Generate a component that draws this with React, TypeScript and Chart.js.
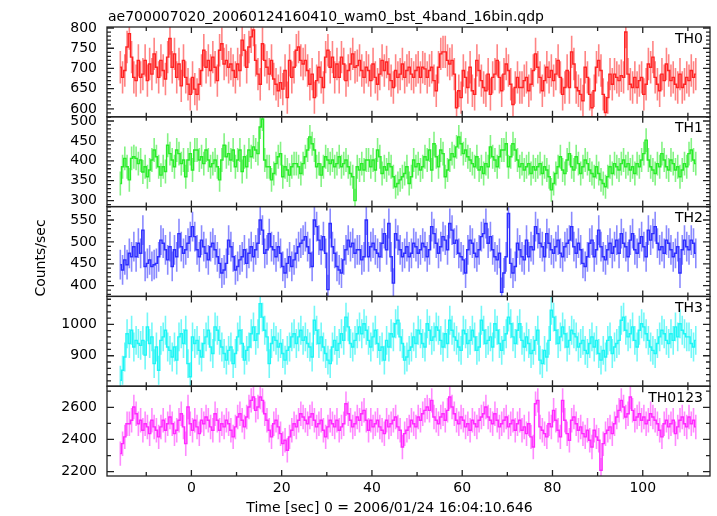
import React, { useEffect, useRef } from 'react';
import { Chart, registerables } from 'chart.js';

Chart.register(...registerables);

const TITLE = 'ae700007020_20060124160410_wam0_bst_4band_16bin.qdp';
const X_TITLE = 'Time [sec] 0 = 2006/01/24 16:04:10.646';
const Y_TITLE = 'Counts/sec';

const BIN_START = -15.75;
const BIN_WIDTH = 0.5;
const X_MIN = -18.7;
const X_MAX = 114.9;
const X_LABEL_TICKS = [0, 20, 40, 60, 80, 100];
const X_MINOR_TICKS = [-10, 0, 10, 20, 30, 40, 50, 60, 70, 80, 90, 100, 110];

const PANEL_NAMES = ['TH0', 'TH1', 'TH2', 'TH3', 'TH0123'];

const TH0 = [
  703, 678, 695, 753, 786, 728, 678, 670, 720, 678, 686, 720, 670, 711, 686, 736,
  703, 678, 720, 695, 674, 728, 774, 703, 736, 678, 711, 657, 720, 678, 661, 636,
  678, 649, 636, 661, 695, 745, 703, 720, 695, 728, 703, 670, 745, 761, 711, 720,
  703, 711, 695, 678, 711, 695, 770, 745, 703, 753, 778, 795, 720, 686, 661, 761,
  720, 703, 686, 720, 674, 661, 645, 665, 649, 695, 628, 720, 678, 703, 745, 753,
  720, 711, 720, 695, 661, 686, 628, 670, 703, 678, 653, 728, 745, 703, 728, 678,
  711, 678, 728, 711, 670, 695, 711, 736, 703, 707, 720, 695, 678, 703, 695, 670,
  711, 678, 661, 686, 720, 695, 716, 686, 670, 653, 695, 678, 686, 711, 678, 695,
  703, 686, 678, 695, 703, 678, 703, 699, 678, 695, 703, 670, 645, 703, 736, 741,
  741, 720, 711, 720, 686, 603, 645, 628, 695, 678, 653, 703, 645, 636, 720, 695,
  670, 653, 645, 686, 636, 678, 686, 720, 678, 645, 686, 711, 695, 661, 611, 653,
  678, 653, 653, 670, 678, 645, 661, 695, 736, 703, 678, 645, 670, 703, 678, 695,
  670, 686, 720, 678, 636, 653, 695, 653, 741, 711, 653, 645, 636, 620, 703, 678,
  636, 603, 645, 703, 720, 695, 636, 591, 628, 686, 661, 686, 678, 670, 682, 678,
  790, 686, 661, 653, 678, 653, 670, 678, 636, 661, 711, 703, 728, 678, 661, 645,
  686, 670, 711, 695, 670, 678, 661, 653, 686, 653, 661, 678, 670, 695, 678, 686
];

const TH1 = [
  343, 385, 406, 385, 352, 406, 410, 406, 393, 402, 372, 385, 360, 377, 402, 427,
  410, 385, 364, 385, 373, 439, 418, 402, 385, 427, 418, 393, 402, 360, 402, 418,
  377, 427, 427, 402, 410, 393, 427, 402, 385, 393, 402, 385, 352, 402, 439, 410,
  418, 402, 427, 385, 402, 427, 373, 410, 385, 427, 410, 435, 427, 418, 485, 505,
  402, 385, 385, 352, 368, 393, 410, 418, 360, 385, 377, 364, 385, 393, 393, 385,
  368, 393, 410, 427, 460, 443, 427, 385, 393, 364, 385, 410, 402, 393, 402, 385,
  393, 410, 385, 393, 402, 385, 368, 360, 300, 385, 377, 393, 377, 402, 402, 385,
  402, 377, 427, 410, 368, 385, 377, 393, 385, 360, 335, 343, 352, 360, 368, 385,
  343, 360, 402, 385, 393, 377, 385, 410, 402, 427, 377, 443, 410, 385, 427, 418,
  360, 377, 402, 418, 410, 435, 460, 443, 418, 427, 410, 402, 393, 385, 410, 377,
  385, 368, 393, 385, 435, 410, 402, 385, 410, 427, 427, 443, 385, 410, 443, 427,
  402, 385, 393, 377, 385, 393, 368, 385, 377, 385, 393, 368, 385, 377, 360, 327,
  343, 368, 385, 410, 377, 368, 402, 418, 385, 377, 410, 393, 368, 385, 402, 393,
  377, 368, 360, 385, 368, 352, 343, 335, 360, 385, 368, 393, 385, 377, 393, 402,
  385, 393, 377, 385, 368, 393, 385, 402, 418, 452, 402, 385, 377, 368, 393, 385,
  418, 402, 385, 377, 402, 393, 377, 385, 360, 377, 393, 385, 418, 427, 402, 393
];

const TH2 = [
  448, 436, 459, 448, 474, 466, 489, 466, 497, 474, 527, 444, 451, 459, 444, 448,
  451, 466, 504, 497, 482, 459, 489, 444, 482, 466, 519, 489, 474, 482, 497, 512,
  535, 512, 482, 466, 504, 489, 474, 459, 489, 497, 482, 466, 451, 429, 436, 451,
  504, 489, 466, 436, 444, 459, 466, 482, 451, 474, 489, 466, 482, 497, 550, 527,
  474, 482, 519, 489, 482, 466, 489, 474, 444, 429, 451, 466, 444, 459, 474, 489,
  497, 504, 512, 489, 474, 444, 550, 535, 504, 482, 512, 474, 391, 542, 489, 474,
  444, 436, 429, 459, 482, 504, 489, 497, 474, 482, 482, 459, 466, 550, 466, 489,
  497, 482, 474, 466, 497, 519, 482, 542, 466, 406, 519, 504, 482, 466, 474, 489,
  466, 474, 497, 489, 474, 482, 497, 489, 466, 482, 535, 519, 497, 474, 489, 512,
  504, 482, 542, 527, 497, 504, 474, 466, 459, 429, 482, 504, 497, 474, 466, 482,
  512, 519, 542, 497, 512, 482, 466, 459, 474, 385, 429, 466, 565, 451, 429, 444,
  497, 482, 466, 459, 504, 466, 489, 482, 535, 519, 497, 489, 466, 519, 497, 482,
  474, 489, 504, 474, 466, 489, 497, 504, 535, 489, 474, 497, 482, 451, 444, 466,
  497, 504, 466, 482, 527, 489, 466, 459, 482, 497, 474, 489, 504, 474, 519, 497,
  489, 466, 504, 519, 482, 474, 497, 512, 489, 466, 527, 504, 519, 535, 497, 482,
  489, 474, 504, 497, 482, 466, 474, 489, 429, 482, 504, 489, 482, 504, 497, 474
];

const TH3 = [
  822, 854, 896, 970, 939, 981, 928, 949, 939, 933, 949, 902, 992, 939, 960, 875,
  928, 854, 949, 960, 981, 928, 917, 896, 928, 886, 960, 970, 939, 981, 875, 833,
  960, 939, 949, 917, 896, 939, 960, 981, 928, 907, 992, 981, 949, 928, 907, 886,
  917, 928, 875, 907, 960, 981, 939, 886, 917, 928, 970, 992, 949, 970, 1066, 1023,
  981, 960, 875, 939, 960, 949, 928, 939, 907, 886, 917, 928, 960, 970, 939, 960,
  981, 949, 960, 939, 928, 896, 1013, 981, 939, 960, 928, 907, 886, 875, 928, 949,
  917, 939, 970, 949, 1023, 992, 939, 928, 949, 970, 992, 970, 1002, 981, 949, 928,
  960, 981, 939, 917, 928, 886, 949, 928, 970, 960, 1002, 1013, 960, 939, 886, 896,
  917, 928, 960, 939, 981, 970, 939, 928, 1002, 981, 949, 960, 992, 981, 949, 928,
  970, 939, 1013, 981, 960, 949, 928, 917, 981, 970, 939, 949, 981, 960, 917, 928,
  1013, 981, 939, 949, 960, 928, 1002, 981, 939, 917, 949, 970, 1023, 1002, 960, 939,
  981, 1002, 949, 928, 960, 939, 907, 917, 949, 981, 886, 875, 917, 896, 949, 1045,
  1023, 981, 939, 960, 992, 970, 928, 949, 981, 970, 960, 928, 939, 949, 917, 907,
  939, 960, 928, 949, 907, 886, 917, 896, 949, 960, 907, 928, 939, 949, 1013, 1023,
  981, 960, 970, 992, 949, 928, 981, 1002, 992, 970, 949, 928, 917, 907, 939, 960,
  981, 970, 949, 939, 970, 949, 992, 960, 1002, 981, 970, 960, 960, 939, 928, 949
];

const TH0123 = [
  2312, 2374, 2416, 2498, 2498, 2519, 2602, 2560, 2498, 2519, 2457, 2498, 2478, 2436, 2519, 2478,
  2457, 2416, 2478, 2519, 2457, 2498, 2540, 2498, 2436, 2457, 2519, 2560, 2478, 2374, 2602, 2498,
  2457, 2519, 2478, 2436, 2519, 2498, 2540, 2519, 2478, 2457, 2560, 2519, 2457, 2498, 2478, 2519,
  2498, 2457, 2416, 2478, 2540, 2560, 2519, 2478, 2540, 2602, 2643, 2664, 2581, 2602, 2664, 2643,
  2560, 2519, 2457, 2416, 2498, 2519, 2478, 2436, 2374, 2395, 2333, 2416, 2457, 2498, 2478, 2519,
  2560, 2540, 2519, 2498, 2540, 2560, 2519, 2478, 2498, 2519, 2457, 2416, 2478, 2519, 2498, 2478,
  2519, 2457, 2478, 2498, 2622, 2560, 2519, 2478, 2498, 2540, 2519, 2560, 2581, 2519, 2457, 2519,
  2478, 2498, 2519, 2478, 2457, 2436, 2519, 2478, 2498, 2519, 2540, 2478, 2457, 2353, 2436, 2457,
  2478, 2519, 2498, 2478, 2540, 2519, 2560, 2581, 2602, 2581, 2643, 2540, 2519, 2498, 2540, 2560,
  2519, 2581, 2664, 2602, 2560, 2519, 2498, 2540, 2519, 2478, 2498, 2457, 2519, 2498, 2478, 2519,
  2540, 2560, 2602, 2540, 2519, 2498, 2560, 2519, 2478, 2498, 2519, 2540, 2478, 2498, 2519, 2457,
  2498, 2519, 2457, 2478, 2436, 2498, 2416, 2353, 2622, 2643, 2478, 2457, 2436, 2416, 2498, 2478,
  2581, 2519, 2457, 2416, 2643, 2519, 2436, 2395, 2519, 2540, 2498, 2457, 2478, 2436, 2416, 2457,
  2395, 2353, 2457, 2416, 2395, 2209, 2374, 2436, 2457, 2478, 2436, 2498, 2540, 2581, 2643, 2602,
  2540, 2560, 2664, 2581, 2519, 2540, 2560, 2519, 2540, 2498, 2519, 2560, 2540, 2519, 2498, 2457,
  2416, 2498, 2519, 2478, 2498, 2519, 2436, 2478, 2519, 2540, 2498, 2478, 2540, 2498, 2519, 2478
];

const SERIES = [TH0, TH1, TH2, TH3, TH0123];
const ERRORS = [40, 30, 34, 46, 76];
const Y_MINS = [580.5, 285, 375.6, 803, 2173];
const Y_MAXS = [802.5, 510.5, 580.6, 1089, 2731];
const Y_LABEL_TICKS = [
  [600, 650, 700, 750, 800],
  [300, 350, 400, 450, 500],
  [400, 450, 500, 550],
  [900, 1000],
  [2200, 2400, 2600]
];
const Y_MINOR_STEPS = [10, 10, 10, 20, 100];
const LINE_COLORS = ['rgb(255,35,35)', 'rgb(40,235,40)', 'rgb(45,45,255)', 'rgb(30,245,245)', 'rgb(255,40,255)'];
const ERR_COLORS = ['rgba(255,50,50,0.6)', 'rgba(50,235,50,0.6)', 'rgba(60,60,255,0.6)', 'rgba(40,245,245,0.65)', 'rgba(255,60,255,0.6)'];

const FONT_FAMILY = '"DejaVu Sans", "Liberation Sans", sans-serif';
const FONT_SIZE = 14;

const qdpPlugin = {
  id: 'qdpPlugin',
  beforeDatasetsDraw(chart: any) {
    const ctx = chart.ctx;
    const xs = chart.scales.x;
    const area = chart.chartArea;
    SERIES.forEach((vals, k) => {
      const ys = chart.scales['y' + k];
      ctx.save();
      ctx.beginPath();
      ctx.rect(area.left, ys.top, area.right - area.left, ys.bottom - ys.top);
      ctx.clip();
      ctx.strokeStyle = ERR_COLORS[k];
      ctx.lineWidth = 1.6;
      ctx.beginPath();
      vals.forEach((v, i) => {
        const px = xs.getPixelForValue(BIN_START + i * BIN_WIDTH);
        ctx.moveTo(px, ys.getPixelForValue(v - ERRORS[k]));
        ctx.lineTo(px, ys.getPixelForValue(v + ERRORS[k]));
      });
      ctx.stroke();
      ctx.restore();
    });
  },
  afterDatasetsDraw(chart: any) {
    const ctx = chart.ctx;
    const xs = chart.scales.x;
    const area = chart.chartArea;
    ctx.save();
    ctx.strokeStyle = '#222';
    ctx.lineWidth = 1.3;
    SERIES.forEach((_, k) => {
      const ys = chart.scales['y' + k];
      ctx.strokeRect(area.left, ys.top, area.right - area.left, ys.bottom - ys.top);
      ctx.beginPath();
      X_MINOR_TICKS.forEach((v) => {
        const px = xs.getPixelForValue(v);
        const len = X_LABEL_TICKS.includes(v) ? 6 : 4;
        ctx.moveTo(px, ys.top);
        ctx.lineTo(px, ys.top + len);
        ctx.moveTo(px, ys.bottom);
        ctx.lineTo(px, ys.bottom - len);
      });
      const step = Y_MINOR_STEPS[k];
      for (let v = Math.ceil(Y_MINS[k] / step) * step; v <= Y_MAXS[k]; v += step) {
        const py = ys.getPixelForValue(v);
        const len = Y_LABEL_TICKS[k].includes(v) ? 7 : 4;
        ctx.moveTo(area.left, py);
        ctx.lineTo(area.left + len, py);
        ctx.moveTo(area.right, py);
        ctx.lineTo(area.right - len, py);
      }
      ctx.stroke();
    });
    ctx.restore();
  },
  afterDraw(chart: any) {
    const ctx = chart.ctx;
    const area = chart.chartArea;
    ctx.save();
    ctx.fillStyle = '#000';
    ctx.font = `${FONT_SIZE}px ${FONT_FAMILY}`;
    ctx.textBaseline = 'alphabetic';
    ctx.textAlign = 'left';
    ctx.fillText(TITLE, 108, 20.5);
    ctx.textAlign = 'right';
    SERIES.forEach((_, k) => {
      const ys = chart.scales['y' + k];
      ctx.fillText(PANEL_NAMES[k], area.right - 7, ys.top + 15.5);
    });
    ctx.textAlign = 'center';
    ctx.fillText(X_TITLE, (area.left + area.right) / 2 - 19, 512);
    ctx.translate(41, 258);
    ctx.rotate(-Math.PI / 2);
    ctx.textBaseline = 'middle';
    ctx.fillText(Y_TITLE, 0, 0);
    ctx.restore();
  }
};

export default function App() {
  const ref = useRef<HTMLCanvasElement | null>(null);

  useEffect(() => {
    const canvas = ref.current;
    if (!canvas) return;
    const font = { family: FONT_FAMILY, size: FONT_SIZE };
    const scales: any = {
      x: {
        type: 'linear',
        position: 'bottom',
        min: X_MIN,
        max: X_MAX,
        afterBuildTicks: (s: any) => {
          s.ticks = X_LABEL_TICKS.map((v) => ({ value: v }));
        },
        afterFit: (s: any) => {
          s.height = 40;
        },
        ticks: { font, color: '#000', padding: 4, maxRotation: 0, autoSkip: false, callback: (v: any) => String(v) },
        grid: { display: false, drawTicks: false },
        border: { display: false }
      }
    };
    // Left stacked axes are laid out in reverse order of definition,
    // so define the bottom panel first and the top panel last.
    for (let k = SERIES.length - 1; k >= 0; k--) {
      scales['y' + k] = {
        type: 'linear',
        position: 'left',
        stack: 'panels',
        stackWeight: 1,
        min: Y_MINS[k],
        max: Y_MAXS[k],
        afterBuildTicks: (s: any) => {
          s.ticks = Y_LABEL_TICKS[k].map((v) => ({ value: v }));
        },
        afterFit: (s: any) => {
          s.width = 107;
        },
        ticks: { font, color: '#000', padding: 10, autoSkip: false, callback: (v: any) => String(v) },
        grid: { display: false, drawTicks: false },
        border: { display: false }
      };
    }
    const datasets = SERIES.map((vals, k) => ({
      label: PANEL_NAMES[k],
      data: vals.map((v, i) => ({ x: BIN_START + i * BIN_WIDTH, y: v })),
      xAxisID: 'x',
      yAxisID: 'y' + k,
      borderColor: LINE_COLORS[k],
      borderWidth: 1.4,
      pointRadius: 0,
      stepped: 'middle' as const,
      fill: false
    }));
    const chart = new Chart(canvas, {
      type: 'line',
      data: { datasets },
      options: {
        animation: false,
        responsive: false,
        maintainAspectRatio: false,
        events: [],
        layout: { padding: { left: 0, right: 7, top: 27, bottom: 0 } },
        plugins: {
          legend: { display: false },
          tooltip: { enabled: false },
          title: { display: false }
        },
        scales
      },
      plugins: [qdpPlugin]
    } as any);
    return () => chart.destroy();
  }, []);

  return (
    <div style={{ position: 'absolute', left: 0, top: 0, width: 717, height: 516, background: '#fff' }}>
      <canvas ref={ref} width={717} height={516} style={{ display: 'block', width: 717, height: 516 }} />
    </div>
  );
}
